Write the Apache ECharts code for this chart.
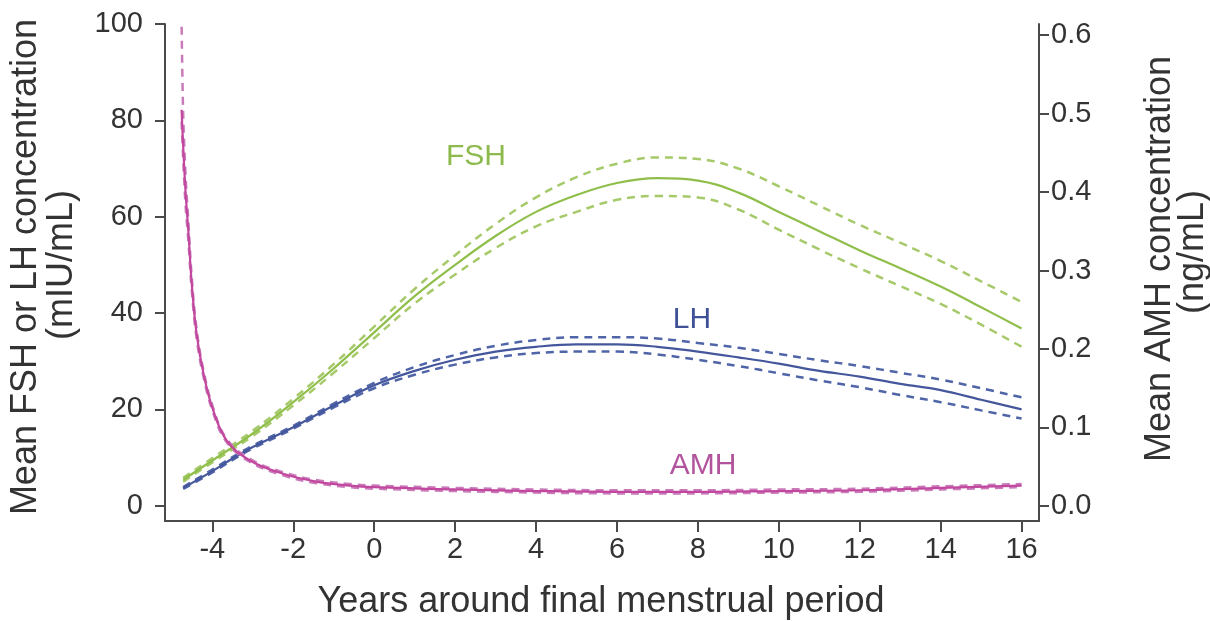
<!DOCTYPE html>
<html>
<head>
<meta charset="utf-8">
<script src="https://cdn.jsdelivr.net/npm/echarts@6/dist/echarts.min.js"></script>
<style>
html,body{margin:0;padding:0;background:#fff;}
#chart{width:1210px;height:621px;}
</style>
</head>
<body>
<div id="chart"></div>
<script>
// ---- Data ----
const xTicks = [-4, -2, 0, 2, 4, 6, 8, 10, 12, 14, 16];
const leftTicks = [0, 20, 40, 60, 80, 100];
const rightTicks = [0, 0.1, 0.2, 0.3, 0.4, 0.5, 0.6];

const fshYears = [-4.72, -4, -3, -2, -1, 0, 1, 2, 3, 4, 5, 6, 7, 8, 9, 10, 11, 12, 13, 14, 15, 16];
const fshMean  = [5.4, 9.4, 15.0, 21.5, 28.5, 36.0, 43.5, 50.0, 56.0, 61.0, 64.5, 67.0, 68.0, 67.5, 65.0, 61.0, 57.0, 53.0, 49.3, 45.5, 41.2, 36.8];
const fshUpper = [5.8, 9.9, 15.6, 22.2, 29.4, 37.2, 45.0, 52.0, 58.5, 64.0, 68.2, 71.0, 72.3, 72.0, 70.0, 66.3, 62.3, 58.3, 54.6, 50.8, 46.6, 42.3];
const fshLower = [5.0, 9.0, 14.5, 20.8, 27.6, 34.8, 42.0, 48.0, 53.5, 58.0, 61.0, 63.5, 64.3, 64.0, 61.5, 57.3, 53.2, 49.3, 45.6, 41.9, 37.6, 33.0];

const lhYears = [-4.72, -4, -3.5, -3, -2, -1, 0, 1, 2, 3, 4, 5, 6, 7, 8, 9, 10, 11, 12, 13, 14, 15, 16];
const lhMean  = [3.7, 7.2, 9.8, 12.2, 16.3, 20.8, 25.0, 28.0, 30.3, 32.0, 33.0, 33.5, 33.5, 33.0, 32.0, 30.8, 29.5, 28.0, 26.8, 25.3, 24.0, 22.0, 20.0];
const lhUpper = [3.9, 7.5, 10.1, 12.5, 16.6, 21.2, 25.5, 28.8, 31.3, 33.2, 34.4, 35.0, 35.0, 34.7, 33.8, 32.8, 31.5, 30.2, 29.0, 27.6, 26.2, 24.4, 22.5];
const lhLower = [3.5, 6.9, 9.5, 11.9, 16.0, 20.4, 24.4, 27.2, 29.3, 30.8, 31.7, 32.0, 32.0, 31.4, 30.3, 29.0, 27.5, 26.0, 24.6, 23.0, 21.5, 19.8, 18.1];

const amhYears = [-4.76, -4.67, -4.59, -4.51, -4.39, -4.22, -3.98, -3.64, -3.07, -2.25, -1.43, -0.6, 0, 2, 4, 6, 8, 10, 12, 14, 16];
const amhMean  = [0.505, 0.407, 0.348, 0.284, 0.220, 0.169, 0.122, 0.083, 0.058, 0.041, 0.031, 0.026, 0.024, 0.021, 0.019, 0.018, 0.018, 0.019, 0.020, 0.023, 0.026];
const amhLower = [0.49, 0.39, 0.336, 0.276, 0.214, 0.165, 0.119, 0.081, 0.056, 0.039, 0.029, 0.024, 0.022, 0.019, 0.017, 0.016, 0.016, 0.017, 0.018, 0.021, 0.024];
const amhUpperYears = [-4.78, -4.73, -4.67, -4.59, -4.51, -4.39, -4.22, -3.98, -3.64, -3.07, -2.25, -1.43, -0.6, 0, 2, 4, 6, 8, 10, 12, 14, 16];
const amhUpper = [0.70, 0.52, 0.43, 0.36, 0.292, 0.226, 0.173, 0.125, 0.085, 0.060, 0.043, 0.033, 0.028, 0.026, 0.023, 0.021, 0.020, 0.020, 0.021, 0.022, 0.025, 0.028];

// ---- Build ----
const pairs = (xs, ys) => xs.map((x, i) => [x, ys[i]]);
const FONT = 'Liberation Sans';
const TXT = '#333333';
const AX = '#4a4a4a';

const COL = {
  fsh: '#8fbf4a', fshD: '#a6c96a',
  lh: '#45579c', lhD: '#5065a8',
  amh: '#c2479f', amhD: '#c97bb9'
};

function line(name, data, color, dashed, yAxisIndex, width) {
  return {
    name, type: 'line', data, yAxisIndex,
    showSymbol: false, symbol: 'none',
    smooth: 0.4,
    clip: true,
    lineStyle: { color, width, type: dashed ? [8, 6] : 'solid' },
    silent: true, animation: false
  };
}

const chart = echarts.init(document.getElementById('chart'), null, { renderer: 'canvas' });
chart.setOption({
  animation: false,
  backgroundColor: '#ffffff',
  grid: { left: 165, right: 171, top: 24, bottom: 100, containLabel: false },
  xAxis: {
    type: 'value', min: -5.17, max: 16.43,
    axisLine: { show: true, onZero: false, lineStyle: { color: AX, width: 2 } },
    axisTick: { show: true, customValues: xTicks, length: 11, lineStyle: { color: AX, width: 2 } },
    axisLabel: { customValues: xTicks, margin: 14, fontFamily: FONT, fontSize: 29, color: TXT },
    splitLine: { show: false }
  },
  yAxis: [
    {
      type: 'value', position: 'left', min: -3.16, max: 100,
      axisLine: { show: true, onZero: false, lineStyle: { color: AX, width: 2 } },
      axisTick: { show: true, customValues: leftTicks, length: 10, lineStyle: { color: AX, width: 2 } },
      axisLabel: { customValues: leftTicks, margin: 22, fontFamily: FONT, fontSize: 29, color: TXT },
      splitLine: { show: false }
    },
    {
      type: 'value', position: 'right', min: -0.0192, max: 0.6143,
      axisLine: { show: true, onZero: false, lineStyle: { color: AX, width: 2 } },
      axisTick: { show: true, customValues: rightTicks, length: 10, lineStyle: { color: AX, width: 2 } },
      axisLabel: { customValues: rightTicks, margin: 12, fontFamily: FONT, fontSize: 29, color: TXT,
        formatter: v => Number(v).toFixed(1) },
      splitLine: { show: false }
    }
  ],
  series: [
    line('FSH upper', pairs(fshYears, fshUpper), COL.fshD, true, 0, 2.5),
    line('FSH lower', pairs(fshYears, fshLower), COL.fshD, true, 0, 2.5),
    line('FSH', pairs(fshYears, fshMean), COL.fsh, false, 0, 2.2),
    line('LH upper', pairs(lhYears, lhUpper), COL.lhD, true, 0, 2.5),
    line('LH lower', pairs(lhYears, lhLower), COL.lhD, true, 0, 2.5),
    line('LH', pairs(lhYears, lhMean), COL.lh, false, 0, 2.2),
    line('AMH upper', pairs(amhUpperYears, amhUpper), COL.amhD, true, 1, 2.5),
    line('AMH lower', pairs(amhYears, amhLower), COL.amhD, true, 1, 2.5),
    line('AMH', pairs(amhYears, amhMean), COL.amh, false, 1, 2.2)
  ],
  graphic: [
    { type: 'text', x: 26, y: 267, rotation: Math.PI / 2,
      style: { text: 'Mean FSH or LH concentration', fontFamily: FONT, fontSize: 36, fill: TXT, align: 'center', verticalAlign: 'middle' } },
    { type: 'text', x: 62, y: 265, rotation: Math.PI / 2,
      style: { text: '(mIU/mL)', fontFamily: FONT, fontSize: 36, fill: TXT, align: 'center', verticalAlign: 'middle' } },
    { type: 'text', x: 1160, y: 259, rotation: Math.PI / 2,
      style: { text: 'Mean AMH concentration', fontFamily: FONT, fontSize: 36, fill: TXT, align: 'center', verticalAlign: 'middle' } },
    { type: 'text', x: 1193, y: 252, rotation: Math.PI / 2,
      style: { text: '(ng/mL)', fontFamily: FONT, fontSize: 36, fill: TXT, align: 'center', verticalAlign: 'middle' } },
    { type: 'text', x: 601, y: 602,
      style: { text: 'Years around final menstrual period', fontFamily: FONT, fontSize: 36, fill: TXT, align: 'center', verticalAlign: 'middle' } },
    { type: 'text', x: 476, y: 157,
      style: { text: 'FSH', fontFamily: FONT, fontSize: 30, fill: '#8cba4c', align: 'center', verticalAlign: 'middle' } },
    { type: 'text', x: 692, y: 320,
      style: { text: 'LH', fontFamily: FONT, fontSize: 30, fill: '#3f5196', align: 'center', verticalAlign: 'middle' } },
    { type: 'text', x: 703, y: 466,
      style: { text: 'AMH', fontFamily: FONT, fontSize: 30, fill: '#b1549d', align: 'center', verticalAlign: 'middle' } }
  ]
});
</script>
</body>
</html>
